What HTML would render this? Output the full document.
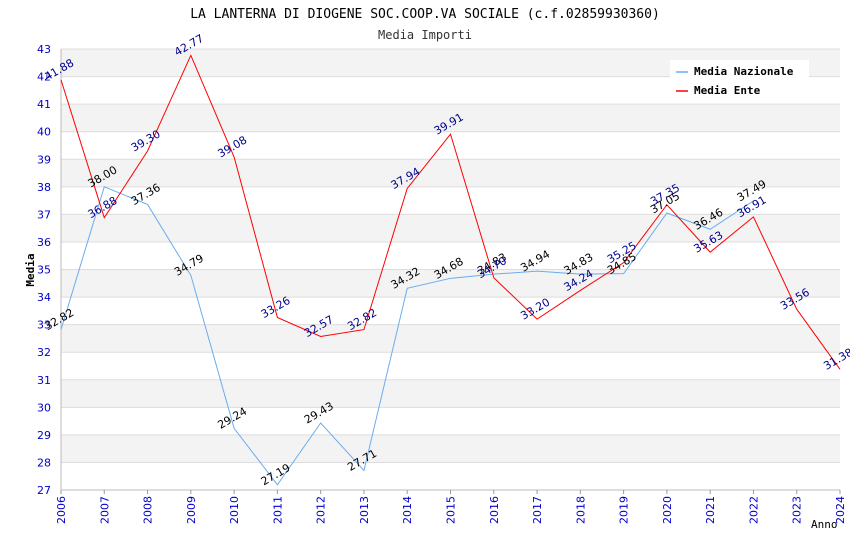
<!DOCTYPE html>
<html><head><meta charset="utf-8"><style>
body{margin:0;background:#fff}
svg{display:block;font-family:"DejaVu Sans","Liberation Sans",sans-serif}
</style></head><body>
<svg id="chart" width="850" height="550">
<text x="425" y="18" text-anchor="middle" font-family="DejaVu Sans Mono, Liberation Mono, monospace" font-size="13" fill="#000">LA LANTERNA DI DIOGENE SOC.COOP.VA SOCIALE (c.f.02859930360)</text>
<text x="425" y="39" text-anchor="middle" font-family="DejaVu Sans Mono, Liberation Mono, monospace" font-size="12" fill="#333">Media Importi</text>
<g id="bands"></g><g id="axes"></g><g id="series"></g><g id="labels"></g>
<text x="34" y="270" transform="rotate(-90 34 270)" text-anchor="middle" font-family="DejaVu Sans Mono, monospace" font-size="11" font-weight="bold">Media</text>
<text x="811" y="528" font-family="DejaVu Sans Mono, monospace" font-size="11">Anno</text>
<g>
<rect x="670" y="60" width="139" height="41" fill="#fff"/>
<line x1="676" y1="72" x2="688" y2="72" stroke="#6aacee" stroke-width="1.5"/>
<text x="694" y="75" font-family="DejaVu Sans Mono, monospace" font-size="11" font-weight="bold">Media Nazionale</text>
<line x1="676" y1="91" x2="688" y2="91" stroke="#f00" stroke-width="1.5"/>
<text x="694" y="94" font-family="DejaVu Sans Mono, monospace" font-size="11" font-weight="bold">Media Ente</text>
</g>
</svg>
<script>
const years=[2006,2007,2008,2009,2010,2011,2012,2013,2014,2015,2016,2017,2018,2019,2020,2021,2022,2023,2024];
const nazionale=[32.82,38.00,37.36,34.79,29.24,27.19,29.43,27.71,34.32,34.68,34.83,34.94,34.83,34.85,37.05,36.46,37.49,null,null];
const ente=[41.88,36.88,39.30,42.77,39.08,33.26,32.57,32.82,37.94,39.91,34.70,33.20,34.24,35.25,37.35,35.63,36.91,33.56,31.38];
const yTicks=[27,28,29,30,31,32,33,34,35,36,37,38,39,40,41,42,43];
const NS='http://www.w3.org/2000/svg';
const L=61,R=840,T=49,B=490,yMin=27,yMax=43;
const xs=i=>L+(R-L)*i/(years.length-1);
const ys=v=>B-(B-T)*(v-yMin)/(yMax-yMin);
function mk(tag,attrs,parent){const e=document.createElementNS(NS,tag);for(const k in attrs)e.setAttribute(k,attrs[k]);parent.appendChild(e);return e;}
const bands=document.getElementById('bands'),axes=document.getElementById('axes'),series=document.getElementById('series'),labels=document.getElementById('labels');
for(let k=0;k<yTicks.length-1;k++){
 const v=yTicks[k];
 const r=mk('rect',{x:L,y:ys(v+1),width:R-L,height:ys(v)-ys(v+1),fill:(v%2===0)?'#f3f3f3':'#fff'},bands);
 
 
}
yTicks.forEach(v=>{
 mk('line',{x1:L,x2:R,y1:ys(v),y2:ys(v),stroke:'#ddd','stroke-width':1},axes);
 const t=mk('text',{x:L-10,y:ys(v)+4,'text-anchor':'end','font-size':11,fill:'#00c'},axes);
 t.textContent=v;
 
 
});
mk('line',{x1:L,x2:L,y1:T,y2:B,stroke:'#bbb'},axes);
mk('line',{x1:L,x2:R,y1:B,y2:B,stroke:'#bbb'},axes);
years.forEach((y,i)=>{
 const x=xs(i);
 mk('line',{x1:x,x2:x,y1:B,y2:B+4,stroke:'#999'},axes);
 const t=mk('text',{x:x+4,y:B+6,'text-anchor':'end','font-size':11,fill:'#00c',transform:`rotate(-90 ${x+4} ${B+6})`},axes);
 t.textContent=y;
 
 
});
function draw(arr,color,lc,name){
 const pts=[];arr.forEach((v,i)=>{if(v!==null)pts.push(xs(i)+','+ys(v));});
 const p=mk('polyline',{points:pts.join(' '),fill:'none',stroke:color,'stroke-width':1},series);
 
 
 arr.forEach((v,i)=>{if(v===null)return;
  const x=xs(i),y=ys(v)-7;
  const t=mk('text',{x:x,y:y,'text-anchor':'middle','font-size':11,fill:lc,transform:`rotate(-30 ${x} ${y})`},labels);
  t.textContent=v.toFixed(2);
  
  
 });
}
draw(nazionale,'#6aacee','#000','nazionale');
draw(ente,'#f00','#00008b','ente');
</script>
</body></html>
